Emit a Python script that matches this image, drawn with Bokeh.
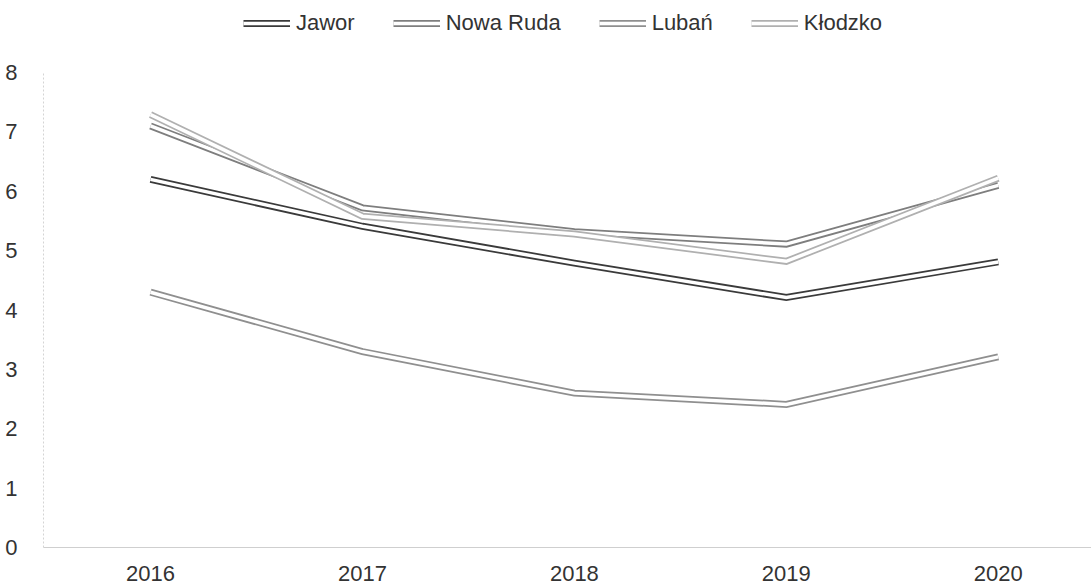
from bokeh.plotting import figure
from bokeh.models import Range1d, FixedTicker, Legend, LegendItem
from bokeh.embed import file_html
from bokeh.resources import INLINE

# ---- data ----
years = [2016, 2017, 2018, 2019, 2020]
year_labels = ["2016", "2017", "2018", "2019", "2020"]
y_ticks = [0, 1, 2, 3, 4, 5, 6, 7, 8]

series_names = ["Jawor", "Nowa Ruda", "Lubań", "Kłodzko"]
jawor = [6.20, 5.41, 4.79, 4.21, 4.81]
nowa_ruda = [7.10, 5.72, 5.32, 5.11, 6.10]
luban = [4.30, 3.30, 2.60, 2.41, 3.21]
klodzko = [7.29, 5.58, 5.28, 4.82, 6.22]
series_values = [jawor, nowa_ruda, luban, klodzko]
series_colors = ["#3a3a3a", "#7e7e7e", "#8f8f8f", "#b0b0b0"]

FONT = "Liberation Sans"
TEXT = "#333333"

p = figure(width=1091, height=588, output_backend="svg", toolbar_location=None,
           x_range=Range1d(2015.495, 2020.44), y_range=Range1d(0, 9.213),
           min_border_left=43, min_border_right=0, min_border_top=0,
           min_border_bottom=41)
p.outline_line_color = None
p.background_fill_color = "white"
p.border_fill_color = "white"
p.xgrid.visible = False
p.ygrid.visible = False

# axes
p.xaxis.ticker = FixedTicker(ticks=years)
p.xaxis.major_label_overrides = {y: l for y, l in zip(years, year_labels)}
p.yaxis.ticker = FixedTicker(ticks=y_ticks)
p.yaxis.bounds = (0, 8)
for ax in (p.xaxis, p.yaxis):
    ax.major_tick_line_color = None
    ax.minor_tick_line_color = None
    ax.major_label_text_font = FONT
    ax.major_label_text_font_size = "22px"
    ax.major_label_text_color = TEXT
p.xaxis.axis_line_color = "#cfcfcf"
p.xaxis.axis_line_width = 1
p.xaxis.major_label_standoff = 12
p.yaxis.axis_line_color = "#d4d4d4"
p.yaxis.axis_line_dash = "2 2"
p.yaxis.major_label_standoff = 20

items = []
for name, vals, col in zip(series_names, series_values, series_colors):
    r1 = p.line(years, vals, line_color=col, line_width=7, line_join="miter")
    r2 = p.line(years, vals, line_color="white", line_width=3.5, line_join="miter")
    items.append(LegendItem(label=name, renderers=[r1, r2]))

legend = Legend(items=items, orientation="horizontal", location=(200, 511),
                glyph_width=47, glyph_height=22, label_standoff=6, spacing=38,
                padding=0, margin=0, border_line_color=None,
                background_fill_alpha=0,
                label_text_font=FONT, label_text_font_size="22px",
                label_text_color=TEXT)
p.add_layout(legend, "center")

open("out.html", "w").write(file_html(p, INLINE))
